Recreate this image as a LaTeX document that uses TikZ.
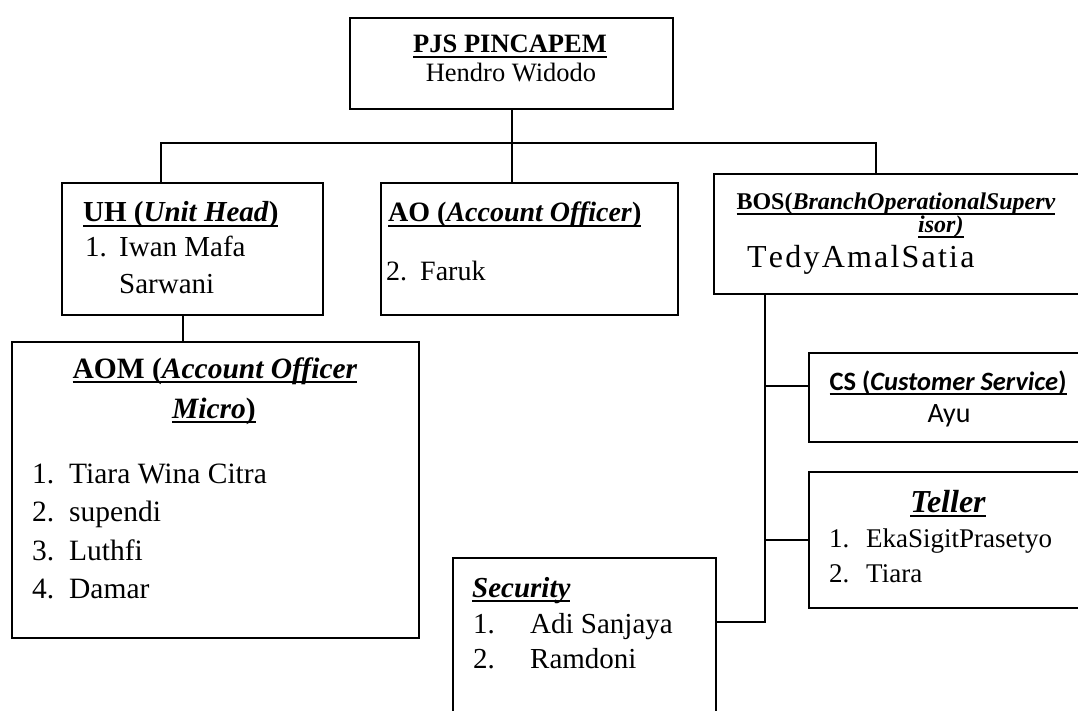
\documentclass[tikz,border=0pt]{standalone}
\usepackage{fontspec}
\setmainfont{Liberation Serif}
\newfontfamily\calib{Carlito}
\newcommand\myul[1]{\leavevmode\setbox0\hbox{#1}\rlap{\rule[-5pt]{\wd0}{2pt}}\box0}
\newcommand\fsz[1]{\fontsize{#1}{#1}\selectfont}
\def\lsp#1{\lspA#1\relax}
\def\lspA#1{\ifx#1\relax\else#1\kern2.2pt\expandafter\lspA\fi}
\begin{document}
\begin{tikzpicture}[x=1pt,y=-1pt,
  box/.style={draw, line width=2pt, inner sep=0pt, anchor=north west},
  conn/.style={line width=1.8pt},
  tl/.style={inner sep=0pt, anchor=base west},
  tc/.style={inner sep=0pt, anchor=base}]
\useasboundingbox (0,0) rectangle (1078,711);
\fill[white] (0,0) rectangle (1078,711);
\clip (0,0) rectangle (1078,711);
% boxes
\node[box, minimum width=323pt, minimum height=91pt] (pjs) at (349,17) {};
\node[box, minimum width=261pt, minimum height=132pt] (uh) at (61,182) {};
\node[box, minimum width=297pt, minimum height=132pt] (ao) at (380,182) {};
\node[box, minimum width=380pt, minimum height=120pt] (bos) at (713,173) {};
\node[box, minimum width=407pt, minimum height=296pt] (aom) at (11,341) {};
\node[box, minimum width=285pt, minimum height=89pt] (cs) at (808,352) {};
\node[box, minimum width=285pt, minimum height=136pt] (teller) at (808,471) {};
\node[box, minimum width=263pt, minimum height=170pt] (sec) at (452,557) {};
% connector coordinates
\coordinate (busL) at (161,143);
\coordinate (busR) at (876,143);
\coordinate (pjsx) at (512,0);
\coordinate (uhx) at (183,330);
\coordinate (trunk) at (765,622);
\coordinate (cstap) at (765,386);
% connectors
\draw[conn] (pjs.south -| pjsx) -- (ao.north -| pjsx);
\draw[conn] (busL |- uh.north) -- (busL) -- (busR) -- (busR |- bos.north);
\draw[conn] (uh.south -| uhx) -- (aom.north -| uhx);
\draw[conn] (bos.south -| trunk) -- (trunk) -- (trunk -| sec.east);
\draw[conn] (cstap) -- (cstap -| cs.west);
\draw[conn] (teller.west -| trunk) -- (teller.west);
% PJS
\node[tc] (t1) at (510,53) {\fsz{26.5}\myul{\bfseries PJS PINCAPEM}};
\node[tc] (t2) at (511,82) {\fsz{26.5}Hendro Widodo};
% UH
\node[tl] (t3) at (83,222) {\fsz{29}\myul{\bfseries UH (\textit{Unit Head})}};
\node[tl] (t4) at (85,256) {\fsz{29}1.};
\node[tl] (t5) at (119,256) {\fsz{29}Iwan Mafa};
\node[tl] (t6) at (119,293) {\fsz{29}Sarwani};
% AO
\node[tl] (t7) at (388,222) {\fsz{28}\myul{\bfseries AO (\textit{Account Officer})}};
\node[tl] (t8) at (386,280) {\fsz{28}2.};
\node[tl] (t9) at (420,280) {\fsz{28}Faruk};
% BOS
\node[tc] (t10) at (896,210) {\fsz{24}\myul{\bfseries BOS(\textit{BranchOperationalSuperv}}};
\node[tl] (t11) at (918,233) {\fsz{24}\myul{\bfseries\itshape isor)}};
\node[tl] (t12) at (747,268) {\fsz{32}\lsp{TedyAmalSatia}};
% AOM
\node[tc] (t13) at (215,378) {\fsz{29.5}\myul{\bfseries AOM (\textit{Account Officer}}};
\node[tc] (t14) at (214,418) {\fsz{29.5}\myul{\bfseries\textit{Micro})}};
\node[tl] (t15) at (32,483) {\fsz{29.5}1.};
\node[tl] (t16) at (69,483) {\fsz{29.5}Tiara Wina Citra};
\node[tl] (t17) at (32,521) {\fsz{29.5}2.};
\node[tl] (t18) at (69,521) {\fsz{29.5}supendi};
\node[tl] (t19) at (32,560) {\fsz{29.5}3.};
\node[tl] (t20) at (69,560) {\fsz{29.5}Luthfi};
\node[tl] (t21) at (32,598) {\fsz{29.5}4.};
\node[tl] (t22) at (69,598) {\fsz{29.5}Damar};
% CS
\node[tc] (t23) at (948,390) {\fsz{26.5}\calib\myul{\bfseries CS (\textit{Customer Service})}};
\node[tc] (t24) at (949,422) {\fsz{28}\calib Ayu};
% Teller
\node[tc] (t25) at (948,512) {\fsz{32}\myul{\bfseries\itshape Teller}};
\node[tl] (t26) at (829,547) {\fsz{27}1.};
\node[tl] (t27) at (866,547) {\fsz{27}EkaSigitPrasetyo};
\node[tl] (t28) at (829,582) {\fsz{27}2.};
\node[tl] (t29) at (866,582) {\fsz{27}Tiara};
% Security
\node[tl] (t30) at (472,597) {\fsz{29}\myul{\bfseries\itshape Security}};
\node[tl] (t31) at (473,633) {\fsz{29}1.};
\node[tl] (t32) at (530,633) {\fsz{29}Adi Sanjaya};
\node[tl] (t33) at (473,668) {\fsz{29}2.};
\node[tl] (t34) at (530,668) {\fsz{29}Ramdoni};
\end{tikzpicture}
\end{document}
